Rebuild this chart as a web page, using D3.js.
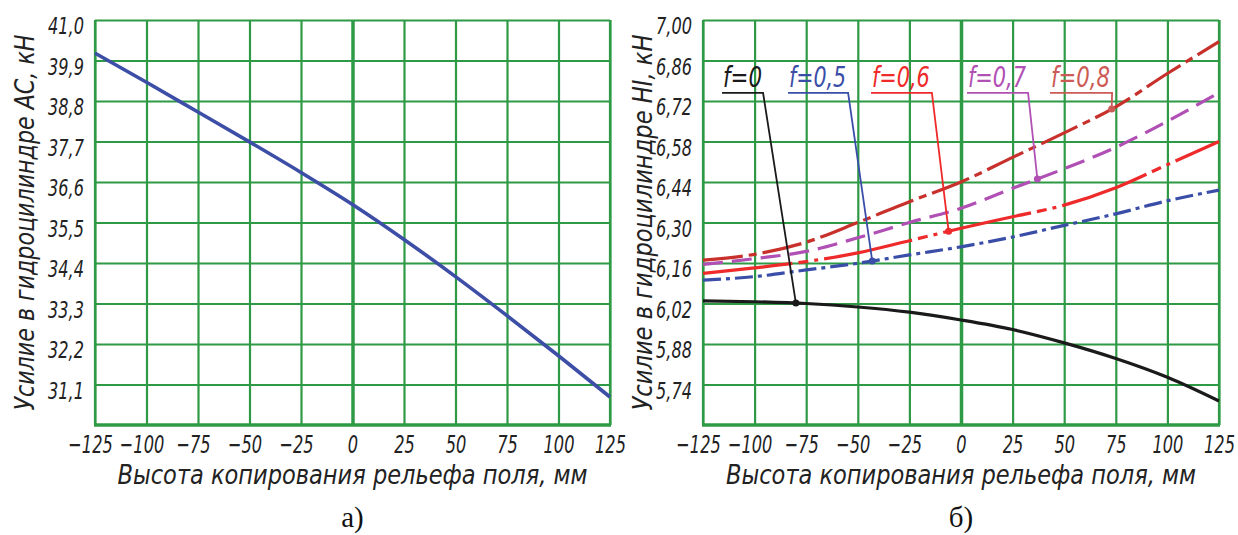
<!DOCTYPE html>
<html><head><meta charset="utf-8">
<script src="https://cdn.jsdelivr.net/npm/d3@7"></script>
<style>
html,body{margin:0;padding:0;background:#fff;}
svg{display:block;}
.gost{font-family:"Liberation Sans Narrow","DejaVu Sans Condensed","Liberation Sans",sans-serif;font-style:italic;fill:#222;}
</style></head>
<body>
<svg id="chart" width="1238" height="535"></svg>
<script>
// ---------- data ----------
const xTicks = [-125,-100,-75,-50,-25,0,25,50,75,100,125];
const xValues = [-125,-100,-75,-50,-25,0,25,50,75,100,125];
const leftYTicks = [31.1,32.2,33.3,34.4,35.5,36.6,37.7,38.8,39.9,41.0];
const leftYDomain = [30.0,41.0];
const rightYTicks = [5.74,5.88,6.02,6.16,6.30,6.44,6.58,6.72,6.86,7.00];
const rightYDomain = [5.60,7.00];
// Force in cylinder AC (chart a)
const forceAC = [40.10,39.31,38.50,37.69,36.86,35.99,35.04,34.03,32.97,31.88,30.76];
// Force in cylinder HI for f values (chart б)
const forceF0  = [6.029,6.026,6.020,6.008,5.990,5.963,5.930,5.884,5.830,5.765,5.683];
const forceF05 = [6.101,6.113,6.136,6.159,6.188,6.216,6.250,6.290,6.330,6.375,6.412];
const forceF06 = [6.124,6.143,6.165,6.195,6.237,6.280,6.320,6.360,6.420,6.500,6.580];
const forceF07 = [6.155,6.175,6.200,6.247,6.300,6.349,6.418,6.486,6.560,6.650,6.749];
const forceF08 = [6.170,6.190,6.232,6.300,6.372,6.440,6.525,6.610,6.700,6.815,6.925];
const seriesNames = ["f=0","f=0,5","f=0,6","f=0,7","f=0,8"];
const seriesColors = ["#1a1a1a","#3a4ea8","#ee2a2a","#b050b4","#c8302c"];
const labelColors = ["#1a1a1a","#3a4ea8","#ee2a2a","#b050b4","#cc5a55"];
const seriesDash = [null,"18,5,4,5","90,6,10,6,4,6","20,9","40,6,8,6"];
// leader labels: start/end of underline, and target x on curve (mm)
const labelStart = [-115.8,-83.8,-43.6,2.9,43.1];
const labelEnd = [-95.9,-54.7,-14.1,32.5,73.2];
const labelTarget = [-80,-43,-6,37,73];
const labelLineY = 6.748;
const xTitle = "Высота копирования рельефа поля, мм";
const yTitleLeft = "Усилие в гидроцилиндре АС, кН";
const yTitleRight = "Усилие в гидроцилиндре HI, кН";
const captions = ["а)","б)"];

// ---------- layout ----------
const svg = d3.select("#chart");
const grid = "#2f9a45";
const panels = [
  {x0:95, x1:610, y0:20, y1:425, yDomain:leftYDomain, yTicks:leftYTicks, fmt:".1f", yTitle:yTitleLeft, titleX:34},
  {x0:703, x1:1219, y0:20, y1:425, yDomain:rightYDomain, yTicks:rightYTicks, fmt:".2f", yTitle:yTitleRight, titleX:652}
];
const comma = f => d => d3.format(f)(d).replace(".",",");
const xFmt = d => d < 0 ? "\u2212" + Math.abs(d) : String(d);
const sxX = 0.72, sxY = 0.78;

panels.forEach((p,i) => {
  p.x = d3.scaleLinear().domain([-125,125]).range([p.x0,p.x1]);
  p.y = d3.scaleLinear().domain(p.yDomain).range([p.y1,p.y0]);
  const g = svg.append("g");
  // vertical grid + x labels
  const xa = g.append("g").attr("transform",`translate(0,${p.y1})`)
    .call(d3.axisBottom(p.x).tickValues(xTicks).tickSize(-(p.y1-p.y0)).tickSizeOuter(0).tickFormat(xFmt).tickPadding(11));
  xa.select(".domain").remove();
  xa.selectAll("line").attr("stroke",grid).attr("stroke-width",d=>d===0?3.5:2.2);
  xa.selectAll("text").attr("class","gost").attr("font-size",25).attr("fill","#222").attr("dy","0.70em")
    .attr("x", d => (d < 0 ? -5 : 0) / sxX)
    .attr("transform",`scale(${sxX},1)`);
  // horizontal grid + y labels
  const ya = g.append("g").attr("transform",`translate(${p.x0},0)`)
    .call(d3.axisLeft(p.y).tickValues(p.yTicks).tickSize(-(p.x1-p.x0)).tickSizeOuter(0).tickFormat(comma(p.fmt)).tickPadding(11));
  ya.select(".domain").remove();
  ya.selectAll("line").attr("stroke",grid).attr("stroke-width",2.2);
  ya.selectAll("text").attr("class","gost").attr("font-size",23).attr("fill","#222").attr("dy","0.6em")
    .attr("x", -11 / sxY)
    .attr("transform",`scale(${sxY},1)`);
  // border
  g.append("line").attr("x1",p.x0).attr("x2",p.x0).attr("y1",p.y0).attr("y2",p.y1).attr("stroke",grid).attr("stroke-width",2.2);
  g.append("line").attr("x1",p.x1).attr("x2",p.x1).attr("y1",p.y0).attr("y2",p.y1).attr("stroke",grid).attr("stroke-width",2.2);
  g.append("line").attr("x1",p.x0-1).attr("x2",p.x1+1).attr("y1",p.y1).attr("y2",p.y1).attr("stroke",grid).attr("stroke-width",3.5);
  // titles
  svg.append("text").attr("class","gost").attr("font-size",27)
    .attr("text-anchor","middle")
    .attr("transform",`translate(${p.titleX},${(p.y0+p.y1)/2})rotate(-90)`)
    .attr("textLength",376).attr("lengthAdjust","spacingAndGlyphs")
    .text(p.yTitle);
  svg.append("text").attr("class","gost").attr("font-size",27)
    .attr("text-anchor","middle").attr("x",(p.x0+p.x1)/2).attr("y",484)
    .attr("textLength",470).attr("lengthAdjust","spacingAndGlyphs")
    .text(xTitle);
  svg.append("text").attr("font-family","'Liberation Serif','Times New Roman',serif").attr("font-size",29)
    .attr("fill","#111").attr("text-anchor","middle").attr("x",(p.x0+p.x1)/2).attr("y",527)
    .text(captions[i]);
});

// ---------- chart a ----------
const pa = panels[0];
const lineA = d3.line().x((d,i)=>pa.x(xValues[i])).y(d=>pa.y(d)).curve(d3.curveMonotoneX);
svg.append("path").datum(forceAC).attr("d",lineA).attr("fill","none")
  .attr("stroke","#3d4ea6").attr("stroke-width",3.6);

// ---------- chart б ----------
const pb = panels[1];
const lineB = d3.line().x((d,i)=>pb.x(xValues[i])).y(d=>pb.y(d)).curve(d3.curveMonotoneX);
const allSeries = [forceF0,forceF05,forceF06,forceF07,forceF08];
const paths = [];
allSeries.forEach((s,k) => {
  const path = svg.append("path").datum(s).attr("d",lineB).attr("fill","none")
    .attr("stroke",seriesColors[k]).attr("stroke-width",3.2)
    .attr("stroke-dasharray",seriesDash[k]);
  paths[k] = path.node();
});
// find y on a path for a given x
function yAt(node, xpx){
  const L = node.getTotalLength();
  let lo=0, hi=L;
  for(let i=0;i<40;i++){
    const mid=(lo+hi)/2, pt=node.getPointAtLength(mid);
    if(pt.x<xpx) lo=mid; else hi=mid;
  }
  return node.getPointAtLength((lo+hi)/2).y;
}
seriesNames.forEach((name,k) => {
  const xs = pb.x(labelStart[k]), xe = pb.x(labelEnd[k]), yl = pb.y(labelLineY);
  const xt = pb.x(labelTarget[k]), yt = yAt(paths[k], xt);
  const c = labelColors[k];
  svg.append("polyline").attr("points",`${xs},${yl} ${xe},${yl} ${xt},${yt}`)
    .attr("fill","none").attr("stroke",c).attr("stroke-width",1.8);
  svg.append("circle").attr("cx",xt).attr("cy",yt).attr("r",3.5).attr("fill",c);
  svg.append("text").attr("class","gost").attr("font-size",28).attr("fill",c)
    .style("fill",c)
    .attr("x",xs+1).attr("y",yl-6)
    .attr("textLength",(xe-xs)*0.95).attr("lengthAdjust","spacingAndGlyphs")
    .text(name);
});
</script>
</body></html>
